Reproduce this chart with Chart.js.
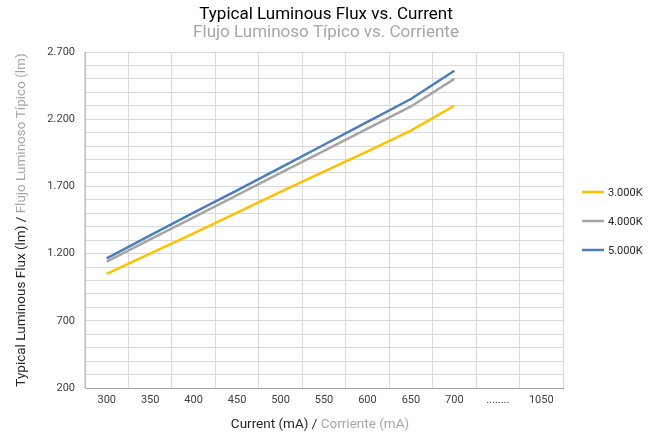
<!DOCTYPE html>
<html>
<head>
<meta charset="utf-8">
<script src="https://cdn.jsdelivr.net/npm/chart.js@4/dist/chart.umd.min.js"></script>
<style>
  html, body { margin: 0; padding: 0; background: #fff; }
  #wrap { width: 653px; height: 437px; }
</style>
</head>
<body>
<div id="wrap"><canvas id="flux" width="653" height="437"></canvas></div>
<script>
// Data
let currents = ["300", "350", "400", "450", "500", "550", "600", "650", "700", "........", "1050"];

let label3000 = "3.000K";
let data3000 = [1050, 1200, 1350, 1505, 1660, 1810, 1960, 2115, 2300, null, null];

let label4000 = "4.000K";
let data4000 = [1140, 1305, 1470, 1635, 1800, 1965, 2130, 2295, 2500, null, null];

let label5000 = "5.000K";
let data5000 = [1165, 1335, 1505, 1670, 1840, 2010, 2180, 2350, 2560, null, null];

let yMin = 200;
let yMax = 2700;
let yLabelStep = 500;

const titleEn = "Typical Luminous Flux vs. Current";
const titleEs = "Flujo Luminoso Típico vs. Corriente";
const yTitle = ["Typical Luminous Flux (lm) / ", "Flujo Luminoso Típico (lm)"];
const xTitle = ["Current (mA) / ", "Corriente (mA)"];

const dark = "#262626";
const light = "#a6a6a6";

// thousands with a dot
function fmt(v) {
	return String(v).replace(/\B(?=(\d{3})+(?!\d))/g, ".");
}

// draws two-colour text centred at 0,0 on the current transform
function twoTone(ctx, parts) {
	let w0 = ctx.measureText(parts[0]).width;
	let w1 = ctx.measureText(parts[1]).width;
	let x = -(w0 + w1) / 2;
	ctx.textAlign = "left";
	ctx.fillStyle = dark;
	ctx.fillText(parts[0], x, 0);
	ctx.fillStyle = light;
	ctx.fillText(parts[1], x + w0, 0);
}

const textPlugin = {
	id: "texts",
	afterDraw(chart) {
		const ctx = chart.ctx;
		const area = chart.chartArea;
		ctx.save();
		ctx.textBaseline = "middle";

		// titles
		ctx.font = "17px Roboto";
		ctx.textAlign = "center";
		ctx.fillStyle = "#000";
		ctx.fillText(titleEn, 326, 15);
		ctx.fillStyle = light;
		ctx.fillText(titleEs, 326, 33);

		// axis titles
		ctx.font = "13.5px Roboto";
		ctx.save();
		ctx.translate(320, 425);
		twoTone(ctx, xTitle);
		ctx.restore();

		ctx.save();
		ctx.translate(22, (area.top + area.bottom) / 2);
		ctx.rotate(-Math.PI / 2);
		twoTone(ctx, yTitle);
		ctx.restore();

		// legend
		ctx.font = "11px Roboto";
		ctx.textAlign = "left";
		chart.data.datasets.forEach((ds, i) => {
			let y = 192 + i * 29;
			ctx.strokeStyle = ds.borderColor;
			ctx.lineWidth = 2.5;
			ctx.beginPath();
			ctx.moveTo(582, y);
			ctx.lineTo(604, y);
			ctx.stroke();
			ctx.fillStyle = dark;
			ctx.fillText(ds.label, 608, y + 1);
		});
		ctx.restore();
	}
};

let fluxChart = new Chart(document.getElementById("flux").getContext("2d"), {
	type: "line",
	data: {
		labels: currents,
		datasets: [
			{ label: label3000, data: data3000, borderColor: "#ffc000" },
			{ label: label4000, data: data4000, borderColor: "#a5a5a5" },
			{ label: label5000, data: data5000, borderColor: "#4a7ebb" }
		]
	},
	options: {
		responsive: false,
		animation: false,
		devicePixelRatio: 1,
		layout: { padding: { top: 52, left: 0, right: 90, bottom: 0 } },
		elements: {
			line: { borderWidth: 2.5, tension: 0, fill: false },
			point: { radius: 0 }
		},
		plugins: {
			legend: { display: false },
			title: { display: false },
			tooltip: { enabled: false }
		},
		scales: {
			x: {
				offset: true,
				grid: { offset: true, color: "#d9d9d9", drawTicks: false },
				border: { color: "#a6a6a6" },
				ticks: { color: "#404040", font: { family: "Roboto", size: 11 }, padding: 6, maxRotation: 0, autoSkip: false },
				afterFit(scale) { scale.height = 49; }
			},
			y: {
				min: yMin,
				max: yMax,
				grid: { color: "#d9d9d9", drawTicks: false },
				border: { color: "#bfbfbf" },
				ticks: {
					stepSize: 100,
					autoSkip: false,
					color: "#404040",
					font: { family: "Roboto", size: 11 },
					padding: 10,
					callback: v => ((v - yMin) % yLabelStep === 0 ? fmt(v) : "")
				},
				afterFit(scale) { scale.width = 85; }
			}
		}
	},
	plugins: [textPlugin]
});
</script>
</body>
</html>
